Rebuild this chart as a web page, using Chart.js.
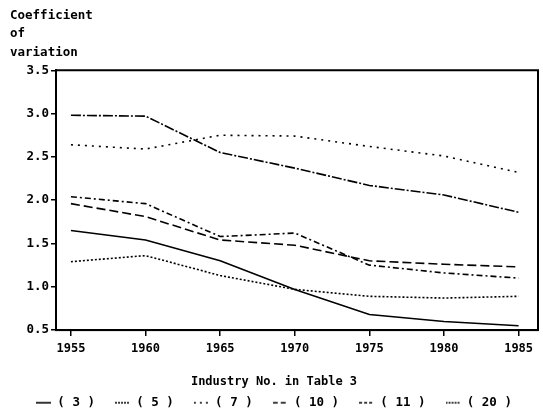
<!DOCTYPE html>
<html>
<head>
<meta charset="utf-8">
<script src="https://cdn.jsdelivr.net/npm/chart.js@4.4.1/dist/chart.umd.min.js"></script>
<style>
  html, body { margin: 0; padding: 0; background: #fff; }
  #wrap { width: 543px; height: 416px; }
</style>
</head>
<body>
<div id="wrap"><canvas id="cv"></canvas></div>
<script>
// years on the x axis
const years = [1955, 1960, 1965, 1970, 1975, 1980, 1985];
const yTicks = [0.5, 1.0, 1.5, 2.0, 2.5, 3.0, 3.5];

// coefficient of variation, by industry No. in Table 3
const ind3  = [1.65, 1.54, 1.30, 0.97, 0.68, 0.60, 0.55];
const ind5  = [2.98, 2.97, 2.55, 2.37, 2.17, 2.06, 1.86];
const ind7  = [2.64, 2.59, 2.75, 2.74, 2.62, 2.51, 2.32];
const ind10 = [1.96, 1.81, 1.54, 1.48, 1.30, 1.26, 1.23];
const ind11 = [2.04, 1.96, 1.58, 1.62, 1.25, 1.16, 1.10];
const ind20 = [1.29, 1.36, 1.13, 0.97, 0.89, 0.87, 0.89];

const FONT = '"DejaVu Sans Mono", monospace';

// little line sample for the legend, with the series' dash
function sample(dash) {
    const c = document.createElement('canvas');
    c.width = 15; c.height = 4;
    const g = c.getContext('2d');
    g.strokeStyle = '#000';
    g.lineWidth = 1.6;
    g.setLineDash(dash);
    g.beginPath();
    g.moveTo(0, 2);
    g.lineTo(15, 2);
    g.stroke();
    return c;
}

function series(label, vals, dash, legendDash) {
    return {
        label: label,
        data: vals.map((v, i) => ({x: years[i], y: v})),
        borderColor: '#000',
        backgroundColor: '#000',
        borderWidth: 1.6,
        borderDash: dash,
        pointRadius: 0,
        tension: 0,
        fill: false,
        legendSample: sample(legendDash)
    };
}

// box around the plot
const frame = {
    id: 'frame',
    afterDatasetsDraw(chart) {
        const a = chart.chartArea, ctx = chart.ctx;
        ctx.save();
        ctx.strokeStyle = '#000';
        ctx.lineWidth = 2;
        ctx.strokeRect(a.left, a.top, a.right - a.left, a.bottom - a.top);
        ctx.restore();
    }
};

new Chart(document.getElementById('cv'), {
    type: 'line',
    data: {
        datasets: [
            series('( 3 )', ind3, [], []),
            series('( 5 )', ind5, [10, 2, 2, 2], [2, 1]),
            series('( 7 )', ind7, [2, 5], [2, 4]),
            series('( 10 )', ind10, [9, 4], [5, 3]),
            series('( 11 )', ind11, [6, 3, 2, 3], [3, 2]),
            series('( 20 )', ind20, [2, 2], [2, 1])
        ]
    },
    plugins: [frame],
    options: {
        responsive: true,
        maintainAspectRatio: false,
        animation: false,
        layout: {padding: {left: 10, right: 5, top: 6, bottom: -3}},
        plugins: {
            title: {
                display: true,
                align: 'start',
                text: ['Coefficient', 'of', 'variation'],
                color: '#000',
                font: {family: FONT, size: 12.5, weight: 'bold', lineHeight: 1.5},
                padding: {top: 0, bottom: 8}
            },
            legend: {
                position: 'bottom',
                align: 'center',
                title: {
                    display: true,
                    position: 'center',
                    text: 'Industry No. in Table 3',
                    color: '#000',
                    font: {family: FONT, size: 12, weight: 'bold'},
                    padding: {top: 10, bottom: -14}
                },
                labels: {
                    color: '#000',
                    font: {family: FONT, size: 12.5, weight: 'bold'},
                    usePointStyle: true,
                    pointStyleWidth: 15,
                    boxHeight: 4,
                    padding: 20,
                    generateLabels(chart) {
                        return chart.data.datasets.map((d, i) => ({
                            text: d.label,
                            fillStyle: '#000',
                            strokeStyle: '#000',
                            lineWidth: 0,
                            pointStyle: d.legendSample,
                            datasetIndex: i
                        }));
                    }
                }
            },
            tooltip: {enabled: false}
        },
        scales: {
            x: {
                type: 'linear',
                min: 1954,
                max: 1986.3,
                afterBuildTicks(scale) { scale.ticks = years.map(v => ({value: v})); },
                afterFit(scale) { scale.height = 36; },
                grid: {drawOnChartArea: false, color: '#000', lineWidth: 1.5, tickLength: 6},
                border: {color: '#000', width: 2},
                ticks: {
                    color: '#000',
                    font: {family: FONT, size: 12, weight: 'bold'},
                    padding: 6,
                    maxRotation: 0,
                    callback: v => String(v)
                }
            },
            y: {
                min: 0.5,
                max: 3.5,
                afterBuildTicks(scale) { scale.ticks = yTicks.map(v => ({value: v})); },
                afterFit(scale) { scale.width = 46; },
                grid: {drawOnChartArea: false, color: '#000', lineWidth: 1.5, tickLength: 5},
                border: {color: '#000', width: 2},
                ticks: {
                    color: '#000',
                    font: {family: FONT, size: 12.5, weight: 'bold'},
                    padding: 2,
                    callback: v => v.toFixed(1)
                }
            }
        }
    }
});
</script>
</body>
</html>
